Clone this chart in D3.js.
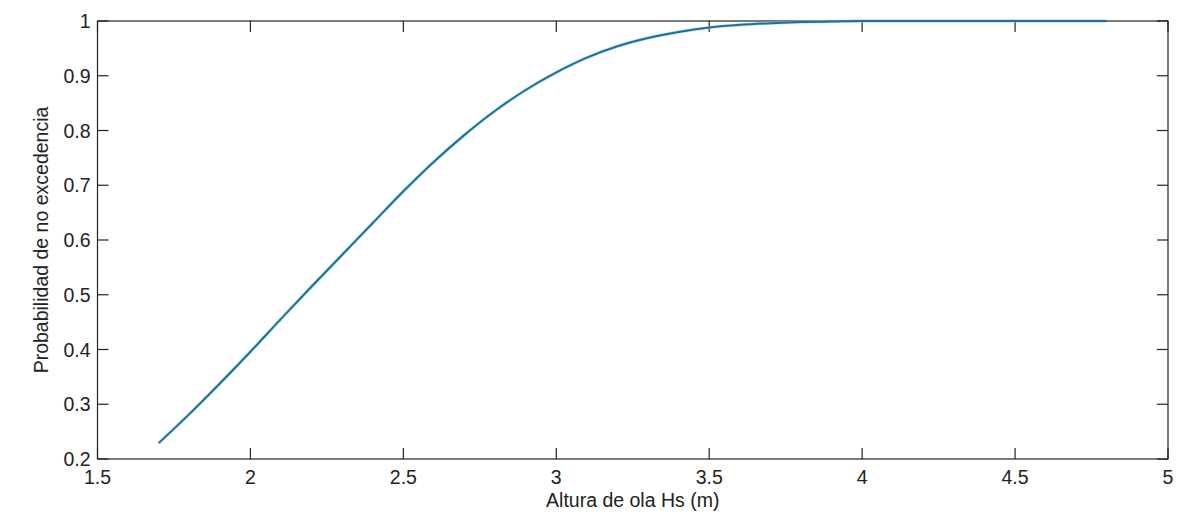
<!DOCTYPE html>
<html>
<head>
<meta charset="utf-8">
<script src="https://cdn.jsdelivr.net/npm/d3@7"></script>
<style>
html,body{margin:0;padding:0;background:#fff;}
svg{display:block;}
text{font-family:"Liberation Sans",Arial,Helvetica,sans-serif;fill:#222;}
</style>
</head>
<body>
<svg id="chart" width="1189" height="514"></svg>
<script>
const hs = [1.70,1.80,1.90,2.00,2.10,2.20,2.30,2.40,2.50,2.60,2.70,2.80,2.90,3.00,3.10,3.20,3.30,3.40,3.50,3.60,3.70,3.80,3.90,4.00,4.20,4.40,4.60,4.80];
const prob = [0.229,0.282,0.338,0.396,0.456,0.515,0.573,0.631,0.689,0.743,0.792,0.836,0.874,0.906,0.933,0.954,0.969,0.980,0.988,0.993,0.996,0.998,0.999,1.000,1.000,1.000,1.000,1.000];
const xTicks = [1.5,2,2.5,3,3.5,4,4.5,5];
const yTicks = [0.2,0.3,0.4,0.5,0.6,0.7,0.8,0.9,1];
const xLabel = "Altura de ola Hs (m)";
const yLabel = "Probabilidad de no excedencia";

const L = 97.5, R = 1168, T = 21, B = 459;
const svg = d3.select("#chart");
const x = d3.scaleLinear().domain([1.5,5]).range([L,R]);
const y = d3.scaleLinear().domain([0.2,1]).range([B,T]);
const fmt = d => String(d);
const tl = 11;

svg.append("rect").attr("x",L).attr("y",T).attr("width",R-L).attr("height",B-T)
  .attr("fill","none").attr("stroke","#222").attr("stroke-width",1.2);

xTicks.forEach(v=>{
  svg.append("line").attr("x1",x(v)).attr("x2",x(v)).attr("y1",B).attr("y2",B-tl).attr("stroke","#222").attr("stroke-width",1.2);
  svg.append("line").attr("x1",x(v)).attr("x2",x(v)).attr("y1",T).attr("y2",T+tl).attr("stroke","#222").attr("stroke-width",1.2);
  svg.append("text").attr("x",x(v)).attr("y",B+25).attr("text-anchor","middle").attr("font-size",19.5).text(fmt(v));
});
yTicks.forEach(v=>{
  svg.append("line").attr("x1",L).attr("x2",L+tl).attr("y1",y(v)).attr("y2",y(v)).attr("stroke","#222").attr("stroke-width",1.2);
  svg.append("line").attr("x1",R).attr("x2",R-tl).attr("y1",y(v)).attr("y2",y(v)).attr("stroke","#222").attr("stroke-width",1.2);
  svg.append("text").attr("x",L-7).attr("y",y(v)+7).attr("text-anchor","end").attr("font-size",19.5).text(fmt(v));
});

const line = d3.line().x((d,i)=>x(hs[i])).y(d=>y(d)).curve(d3.curveMonotoneX);
svg.append("path").datum(prob).attr("d",line).attr("fill","none")
  .attr("stroke","#8fd3ec").attr("stroke-width",3.4).attr("opacity",0.6);
svg.append("path").datum(prob).attr("d",line).attr("fill","none")
  .attr("stroke","#1f6f98").attr("stroke-width",2);

svg.append("text").attr("x",(L+R)/2).attr("y",507).attr("text-anchor","middle").attr("font-size",19.5).text(xLabel);
svg.append("text").attr("transform",`translate(48,${(T+B)/2}) rotate(-90)`).attr("text-anchor","middle").attr("font-size",19.5).text(yLabel);
</script>
</body>
</html>
